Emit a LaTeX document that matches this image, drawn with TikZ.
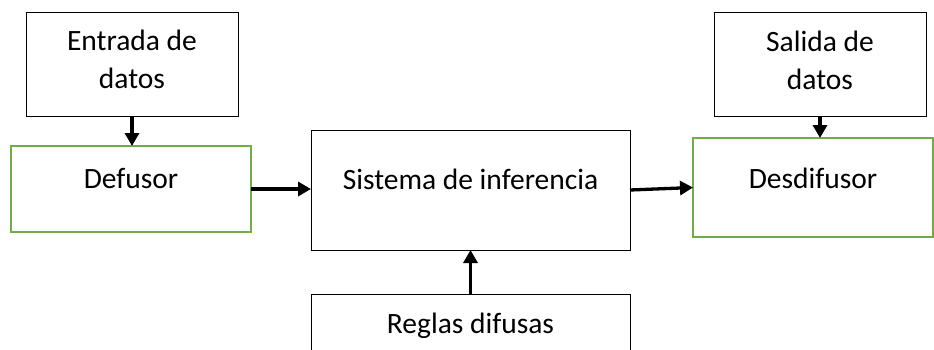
\documentclass[tikz,border=0pt]{standalone}
\usepackage{fontspec}
\setmainfont{Carlito}
\usetikzlibrary{arrows.meta}
\definecolor{boxgreen}{HTML}{70AD47}
\begin{document}
\begin{tikzpicture}[x=1pt,y=-1pt,
  every node/.style={inner sep=0pt,outer sep=0pt},
  blackbox/.style={draw=black,line width=1pt,fill=white},
  greenbox/.style={draw=boxgreen,line width=2pt,fill=white},
  txt/.style={font=\fontsize{29.5}{38}\selectfont,align=center},
  arr/.style={line width=3.3pt,-{Triangle[length=13pt,width=14pt]}}]
\useasboundingbox (0,0) rectangle (934,349);
\clip (0,0) rectangle (934,349);
% boxes
\node[blackbox,minimum width=212pt,minimum height=104pt,
  label={[txt,yshift=4.5pt,name=Et]center:Entrada de\\datos}] (E) at (132,64) {};
\node[greenbox,minimum width=240pt,minimum height=86pt,
  label={[txt,yshift=10.5pt,name=Dt]center:Defusor}] (D) at (131,189) {};
\node[blackbox,minimum width=319pt,minimum height=120pt,
  label={[txt,yshift=11pt,name=St]center:Sistema de inferencia}] (S) at (470.5,190) {};
\node[blackbox,minimum width=212pt,minimum height=104pt,
  label={[txt,yshift=3.5pt,name=Sat]center:Salida de\\datos}] (Sa) at (820,64) {};
\node[greenbox,minimum width=240pt,minimum height=99pt,
  label={[txt,yshift=9.5pt,name=Ddt]center:Desdifusor}] (Dd) at (813,187.5) {};
\node[blackbox,minimum width=319pt,minimum height=80pt,anchor=north] (R) at (470.5,294) {};
\node[txt,anchor=base] (Rt) at (470.5,333) {Reglas difusas};
% arrows
\draw[arr] (E.south) -- (E.south |- D.north);
\draw[arr] (D.east) -- (D.east -| S.west);
\draw[arr] (S.east) -- (Dd.west);
\draw[arr] (Sa.south) -- (Sa.south |- Dd.north);
\draw[arr] (R.north) -- (S.south);
\end{tikzpicture}
\end{document}
